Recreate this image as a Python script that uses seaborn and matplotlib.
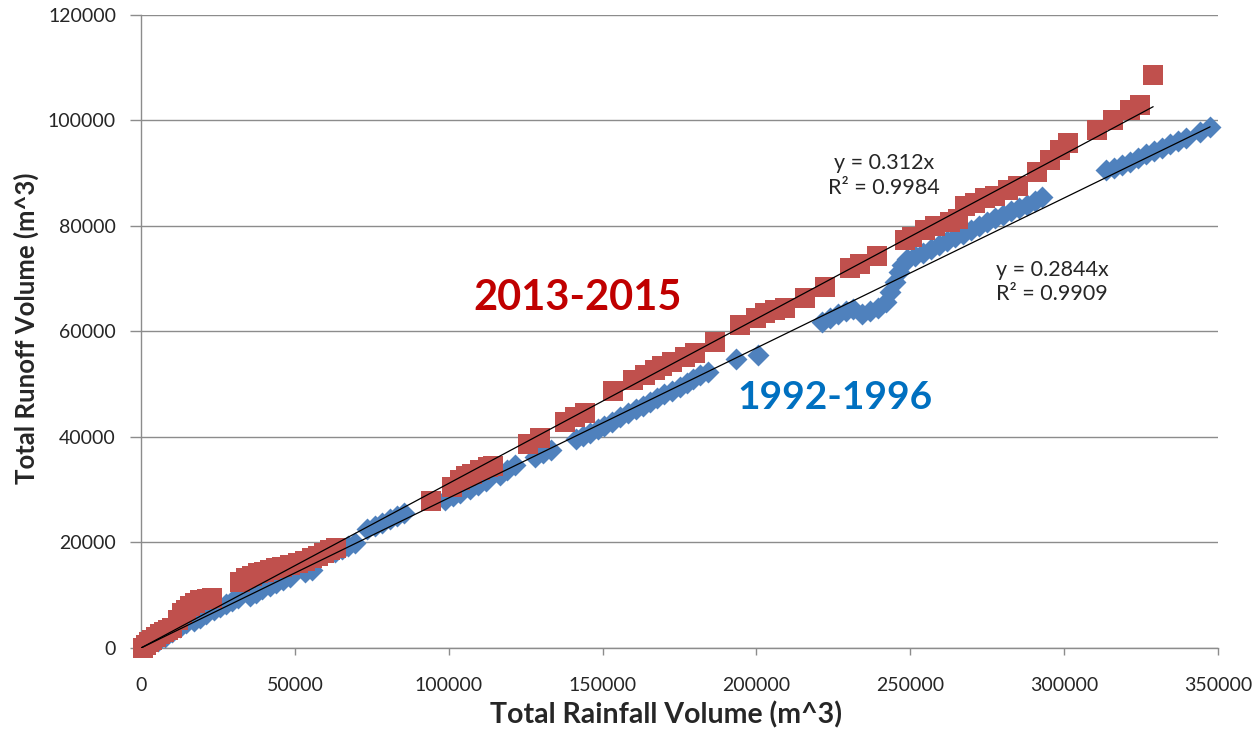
import numpy as np
import pandas as pd
import matplotlib
matplotlib.use("Agg")
import matplotlib.pyplot as plt
import seaborn as sns

# Cumulative rainfall vs. runoff volumes (m^3)
rain_1992 = [2900, 5500, 7800, 10100, 12700, 14600, 17200, 19200, 21100, 23700,
             25700, 27600, 29600, 31500, 35400, 37400, 39300, 41900, 43900, 46100,
             48400, 53300, 55600, 63100, 65300, 67300, 69500,
             73400, 76100, 78300, 80900, 83200, 85500,
             98800, 101400, 103700, 106900, 109500, 112100, 116700, 118900, 121500,
             128000, 130700, 133300, 141300, 143600, 145900, 148500, 150500, 153100,
             155700, 158300, 160900, 163100, 165400, 167700, 170000, 172600, 175200,
             177500, 179500, 181800, 184100, 193400, 200500,
             221300, 223900, 226500, 229100, 231400, 234300, 236900, 239400, 242100,
             243400, 245000, 246400, 247300, 248900, 251500, 254100, 256700, 259300,
             261900, 264500, 267100, 269700, 272300, 274900, 277500, 280100, 282700,
             285300, 287900, 290500, 292800,
             313600, 316200, 318800, 321400, 324000, 326600, 329200, 331800, 334400,
             337000, 339600, 344100, 347400]
runoff_1992 = [570, 1330, 2090, 3030, 4000, 4740, 5120, 5690, 6450, 7210,
               7770, 8340, 8910, 9480, 9860, 10430, 11180, 11750, 12320, 12890,
               13460, 14410, 14790, 18200, 18770, 19340, 19910,
               22560, 23130, 23700, 24450, 25020, 25590,
               28060, 28820, 29390, 30150, 30900, 31660, 32800, 33750, 34700,
               36220, 36970, 37540, 39630, 40200, 40770, 41530, 42100, 42860,
               43800, 44560, 45320, 45880, 46640, 47400, 48160, 48730, 49490,
               50250, 51000, 51760, 52330, 54800, 55550,
               61800, 62550, 63310, 63880, 64260, 63310, 63880, 64450, 65590,
               67480, 69380, 71280, 72600, 73740, 74310, 74870, 75630, 76390,
               77150, 77910, 78480, 79230, 79990, 80750, 81510, 82080, 82840,
               83410, 83980, 84740, 85500,
               90620, 91000, 91560, 92130, 92890, 93650, 94210, 94780, 95540,
               96100, 96670, 97810, 98760]

rain_2013 = [500, 1600, 2600, 3600, 4900, 6200, 7500, 8800, 10100, 12000,
             13300, 14600, 15900, 17500, 19200, 21500, 23100,
             32200, 34100, 36100, 38000, 40000, 41900, 43900, 45800, 48400,
             51000, 53300, 55600, 57500, 59500, 61400, 63400,
             94250, 101000, 103700, 105600, 107600, 110200, 112800, 114400,
             125800, 129700, 137800, 141000, 144300, 153400, 159900, 163800,
             167000, 169300, 172600, 176800, 180100, 186600, 194700, 199900,
             202800, 206000, 209300, 215800, 222300, 230400, 233700, 239200,
             248300, 250600, 254800, 258000, 262900, 265500, 267800, 271000,
             274300, 277500, 281800, 285000, 291200, 295400, 298700, 301300,
             310700, 315900, 321400, 324700, 328900]
runoff_2013 = [0, 570, 1140, 1500, 2100, 2650, 3030, 3400, 3800, 5300,
               6600, 7200, 8000, 8500, 9100, 9300, 9500,
               12500, 13300, 13650, 14200, 14400, 14800, 15200, 15350, 15700,
               16100, 16500, 17100, 17400, 18000, 18600, 19000,
               27900, 30500, 31850, 32600, 33000, 33750, 34300, 34500,
               38700, 39800, 42850, 43800, 44550, 48700, 50800, 51800,
               52700, 53500, 54200, 55200, 55900, 58000, 61200, 62600,
               63500, 64100, 64500, 66400, 68400, 72000, 72800, 74300,
               77400, 77900, 79300, 80000, 80800, 81300, 83800, 84400,
               85300, 85700, 86800, 87600, 90200, 92500, 94400, 95700,
               98200, 100100, 102000, 103000, 108600]

# Linear trend lines through the origin
slope_1992, r2_1992 = 0.2844, 0.9909
slope_2013, r2_2013 = 0.312, 0.9984

x_ticks = [0, 50000, 100000, 150000, 200000, 250000, 300000, 350000]
y_ticks = [0, 20000, 40000, 60000, 80000, 100000, 120000]

sns.set_theme(style="white")
plt.rcParams["font.family"] = ["Lato", "DejaVu Sans"]

df = pd.concat([
    pd.DataFrame({"rain": rain_1992, "runoff": runoff_1992, "period": "1992-1996"}),
    pd.DataFrame({"rain": rain_2013, "runoff": runoff_2013, "period": "2013-2015"}),
])

fig = plt.figure(figsize=(12.59, 7.32), dpi=100)
ax = fig.add_axes([0.112, 0.1148, 0.8555, 0.8647])

blue = "#4F81BD"
red = "#C0504D"

sns.scatterplot(data=df[df.period == "1992-1996"], x="rain", y="runoff",
                marker="D", s=125, color=blue, edgecolor=blue, linewidth=0,
                ax=ax, zorder=3, legend=False)
sns.scatterplot(data=df[df.period == "2013-2015"], x="rain", y="runoff",
                marker="s", s=205, color=red, edgecolor=red, linewidth=0,
                ax=ax, zorder=4, legend=False)
for coll in ax.collections:
    coll.set_clip_on(False)

for rain, slope in [(rain_1992, slope_1992), (rain_2013, slope_2013)]:
    xs = np.array([0, max(rain)])
    ax.plot(xs, slope * xs, color="black", lw=0.9, zorder=5)

ax.set_xlim(0, 350000)
ax.set_ylim(0, 120000)
ax.set_xticks(x_ticks)
ax.set_yticks(y_ticks)
ax.set_xticklabels([str(v) for v in x_ticks])
ax.set_yticklabels([str(v) for v in y_ticks])

grid_c = "#8C8C8C"
ax.yaxis.grid(True, color=grid_c, lw=1.0)
ax.xaxis.grid(False)
ax.set_axisbelow(True)
for side in ["top", "right"]:
    ax.spines[side].set_visible(False)
for side in ["left", "bottom"]:
    ax.spines[side].set_color(grid_c)
    ax.spines[side].set_linewidth(1.0)

ax.tick_params(axis="x", direction="out", length=5, width=1, color=grid_c,
               pad=16, labelsize=14, labelcolor="#262626", bottom=True)
ax.tick_params(axis="y", direction="out", length=8, width=1, color=grid_c,
               pad=10, labelsize=14, labelcolor="#262626", left=True)

ax.set_xlabel("Total Rainfall Volume (m^3)", fontsize=20.5, fontweight="bold",
              color="#262626")
ax.set_ylabel("Total Runoff Volume (m^3)", fontsize=18.5, fontweight="bold",
              color="#262626")
ax.xaxis.set_label_coords(0.4875, -0.085)
ax.yaxis.set_label_coords(-0.095, 0.505)

ax.text(142000, 66400, "2013-2015", color="#C00000", fontsize=30,
        fontweight="bold", ha="center", va="center")
ax.text(225500, 47400, "1992-1996", color="#0070C0", fontsize=28,
        fontweight="bold", ha="center", va="center")

ax.text(241500, 89500, f"y = {slope_2013}x\nR² = {r2_2013}", fontsize=15.5,
        color="#262626", ha="center", va="center", linespacing=1.3)
ax.text(296000, 69400, f"y = {slope_1992}x\nR² = {r2_1992}", fontsize=15.5,
        color="#262626", ha="center", va="center", linespacing=1.3)

fig.savefig("out.png", dpi=100, facecolor="white")
